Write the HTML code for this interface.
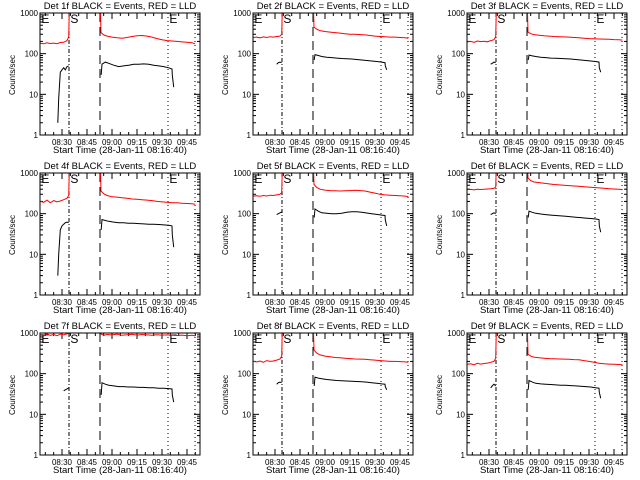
<!DOCTYPE html>
<html><head><meta charset="utf-8"><style>
html,body{margin:0;padding:0;background:#fff}
svg{display:block}
text{font-family:"Liberation Sans",sans-serif;fill:#000}
</style></head><body>
<svg id="chart" width="640" height="480" viewBox="0 0 640 480" xmlns="http://www.w3.org/2000/svg"></svg>
<script>
// ---- data (time in minutes relative to 08:30) ----
const detNames = ["1f","2f","3f","4f","5f","6f","7f","8f","9f"];
const xTickLabels = ["08:30","08:45","09:00","09:15","09:30","09:45"];
const xTickTimes = [0,15,30,45,60,75];
const yTickValues = [1,10,100,1000];
const yTickLabels = ["1","10","100","1000"];
const eventTimes = [4.2,22.8,63.6,79.8];

const redPreT = [-13,-11,-9,-7,-5,-3,-1,1,3,4,4.6];
const redPostT = [22.8,23.4,25,27,30,33,36,39,42,45,48,51,54,57,60,63,66,69,72,75,78,80];
const blackPreT = [-2.5,-2,-1,0,1,2,3,4];
const blackPostT = [23.5,24,26,28,31,34,37,40,43,46,49,52,55,58,61,64,66,66.2,67];

const redPre = [
 [180,175,185,178,182,176,188,190,210,260,3000],
 [250,255,245,258,250,262,255,265,270,300,3000],
 [195,200,190,205,198,202,196,210,220,260,3000],
 [200,190,215,185,210,195,205,220,240,280,3000],
 [270,275,268,280,272,285,280,290,300,330,3000],
 [390,395,385,400,392,398,405,410,420,450,3000],
 [900,850,950,880,920,860,940,900,950,1000,3000],
 [200,195,205,190,210,200,205,215,230,270,3000],
 [170,175,165,180,172,178,182,190,200,240,3000]
];
const redPost = [
 [3000,330,290,270,255,245,240,250,265,275,280,270,255,235,220,210,205,200,195,190,185,175],
 [3000,450,400,370,350,340,330,320,310,300,300,295,290,280,270,265,260,255,255,250,245,240],
 [3000,340,310,295,285,275,270,265,262,258,255,250,245,240,235,232,230,228,225,222,220,215],
 [3000,360,310,280,260,255,245,240,230,225,220,215,210,200,195,190,185,185,180,178,175,170],
 [3000,520,440,400,380,370,365,360,365,370,375,370,360,340,320,300,290,285,280,275,270,265],
 [3000,750,650,600,580,560,540,520,510,500,490,480,470,460,450,440,430,420,410,405,400,390],
 [3000,950,880,920,900,940,880,910,930,890,920,900,880,910,890,900,880,870,890,860,880,850],
 [3000,380,320,290,270,260,250,245,240,235,230,228,225,220,215,210,205,200,200,198,195,190],
 [3000,300,270,255,245,240,235,232,230,228,225,222,220,210,200,190,180,175,172,170,168,165]
];
const blackPre = [
 [2,8,35,40,45,40,48,50],
 [null,null,null,null,55,60,62,60],
 [null,null,null,null,55,58,62,60],
 [3,10,40,50,55,60,62,60],
 [null,null,null,null,95,100,105,110],
 [null,null,null,null,95,100,105,100],
 [null,null,null,null,38,40,42,45],
 [null,null,null,null,55,60,62,60],
 [null,null,null,null,45,50,55,50]
];
const blackPost = [
 [30,55,62,58,52,48,50,52,55,55,56,55,52,50,48,45,42,30,15],
 [70,95,90,85,82,80,78,76,75,74,72,70,68,66,64,62,60,50,40],
 [70,92,88,85,82,80,78,77,76,75,74,72,70,68,66,64,62,45,35],
 [40,72,68,65,62,60,60,58,58,57,56,55,55,54,53,52,50,30,15],
 [80,130,115,105,102,100,100,102,108,112,112,108,104,100,96,92,90,70,50],
 [80,115,108,102,98,95,92,90,88,86,84,82,80,78,76,74,72,50,35],
 [30,60,55,52,50,48,48,47,47,46,46,45,45,44,44,43,42,30,20],
 [50,82,78,75,72,70,68,67,66,65,64,63,62,60,58,56,55,48,40],
 [40,68,62,58,56,55,54,53,52,52,51,50,49,48,47,45,44,35,25]
];

// ---- layout ----
const svg = document.getElementById('chart');
const NS = 'http://www.w3.org/2000/svg';
function mk(tag, attrs, parent){const e=document.createElementNS(NS,tag);for(const k in attrs)e.setAttribute(k,attrs[k]);(parent||svg).appendChild(e);return e;}

const colX=[0,213,427], rowY=[0,160,320];
const BL=40, BR=200, BT=13, BB=135;
const tMin=-13.2, tMax=82.8;

detNames.forEach((name,i)=>{
  const ox=colX[i%3], oy=rowY[Math.floor(i/3)];
  const xs=t=>ox+BL+(t-tMin)/(tMax-tMin)*(BR-BL);
  const ys=v=>oy+BB-(Math.log10(v))/3*(BB-BT);
  const g=mk('g',{});
  
  
  const cid='clip'+i;
  const cp=mk('clipPath',{id:cid},g);
  mk('rect',{x:ox+BL,y:oy+BT,width:BR-BL,height:BB-BT},cp);

  const title=mk('text',{x:ox+BL+80,y:oy+9,'font-size':'9.5','text-anchor':'middle'},g);
  title.textContent='Det '+name+' BLACK = Events, RED = LLD';
  
  

  const yl=mk('text',{x:0,y:0,'font-size':'8','text-anchor':'middle',transform:`translate(${ox+15},${oy+75}) rotate(-90)`},g);
  yl.textContent='Counts/sec';
  
  

  const xl=mk('text',{x:ox+BL+80,y:oy+153,'font-size':'9.5','text-anchor':'middle'},g);
  xl.textContent='Start Time (28-Jan-11 08:16:40)';
  
  

  yTickValues.forEach((v,k)=>{
    const y=ys(v);
    mk('line',{x1:ox+BL,x2:ox+BL+6,y1:y,y2:y,stroke:'#000'},g);
    mk('line',{x1:ox+BR,x2:ox+BR-6,y1:y,y2:y,stroke:'#000'},g);
    const t=mk('text',{x:ox+BL-2,y:y+3,'font-size':'8','text-anchor':'end'},g);
    t.textContent=yTickLabels[k];
    
    
    if(k<3){for(let m=2;m<10;m++){const yy=ys(v*m);
      mk('line',{x1:ox+BL,x2:ox+BL+3,y1:yy,y2:yy,stroke:'#000'},g);
      mk('line',{x1:ox+BR,x2:ox+BR-3,y1:yy,y2:yy,stroke:'#000'},g);}}
  });
  xTickTimes.forEach((tt,k)=>{
    const x=xs(tt);
    mk('line',{x1:x,x2:x,y1:oy+BB,y2:oy+BB-6,stroke:'#000'},g);
    mk('line',{x1:x,x2:x,y1:oy+BT,y2:oy+BT+6,stroke:'#000'},g);
    const t=mk('text',{x:x,y:oy+BB+10,'font-size':'8','text-anchor':'middle'},g);
    t.textContent=xTickLabels[k];
    
    
  });
  for(let tt=-10;tt<82;tt+=5){if(tt%15===0)continue;const x=xs(tt);
    mk('line',{x1:x,x2:x,y1:oy+BB,y2:oy+BB-3,stroke:'#000'},g);
    mk('line',{x1:x,x2:x,y1:oy+BT,y2:oy+BT+3,stroke:'#000'},g);}

  const dashes=['4,2,1,2','9,5','1,3','1,3'];
  eventTimes.forEach((tt,k)=>{
    const x=xs(tt);
    const l=mk('line',{x1:x,x2:x,y1:oy+BT,y2:oy+BB,stroke:'#000','stroke-dasharray':dashes[k]},g);
    
    
  });
  [['E',tMin+0.8],['S',eventTimes[0]+0.8],['E',eventTimes[2]+0.8]].forEach(([s,tt])=>{
    const t=mk('text',{x:xs(tt),y:oy+BT+10,'font-size':'12'},g);
    t.textContent=s;
    
    
  });

  const cg=mk('g',{'clip-path':`url(#${cid})`},g);
  function seg(ts,vals,color,dn){
    let d='',pen=false;
    vals.forEach((v,k)=>{if(v==null){pen=false;return;}d+=(pen?'L':'M')+xs(ts[k]).toFixed(1)+','+ys(v).toFixed(1);pen=true;});
    const p=mk('path',{d:d,fill:'none',stroke:color,'stroke-width':'1'},cg);
    
    
  }
  seg(redPreT,redPre[i],'#ff0000','lld-series-pre');
  seg(redPostT,redPost[i],'#ff0000','lld-series-post');
  seg(blackPreT,blackPre[i],'#000','events-series-pre');
  seg(blackPostT,blackPost[i],'#000','events-series-post');

  const box=mk('rect',{x:ox+BL,y:oy+BT,width:BR-BL,height:BB-BT,fill:'none',stroke:'#000'},g);
  
  
});
</script>
</body></html>
